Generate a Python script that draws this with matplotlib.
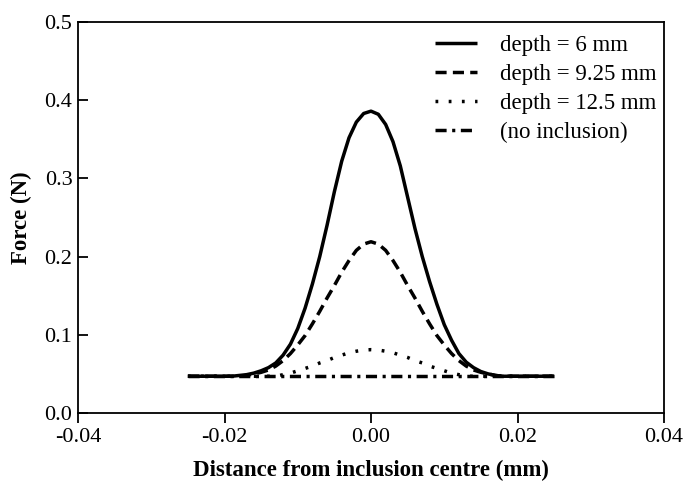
import matplotlib
matplotlib.use("Agg")
from matplotlib import pyplot as plt

# distance from inclusion centre, sampled every 0.001
distance = [-0.025, -0.024, -0.023, -0.022, -0.021, -0.020, -0.019, -0.018, -0.017,
            -0.016, -0.015, -0.014, -0.013, -0.012, -0.011, -0.010, -0.009, -0.008,
            -0.007, -0.006, -0.005, -0.004, -0.003, -0.002, -0.001, 0.000,
            0.001, 0.002, 0.003, 0.004, 0.005, 0.006, 0.007, 0.008, 0.009,
            0.010, 0.011, 0.012, 0.013, 0.014, 0.015, 0.016, 0.017, 0.018,
            0.019, 0.020, 0.021, 0.022, 0.023, 0.024, 0.025]

force_6mm = [0.047, 0.047, 0.047, 0.047, 0.047, 0.047, 0.047, 0.048, 0.049,
             0.051, 0.054, 0.058, 0.064, 0.074, 0.088, 0.108, 0.134, 0.165,
             0.200, 0.240, 0.283, 0.322, 0.352, 0.372, 0.383, 0.386,
             0.382, 0.369, 0.347, 0.316, 0.276, 0.236, 0.200, 0.168, 0.139,
             0.113, 0.093, 0.076, 0.065, 0.058, 0.053, 0.050, 0.048, 0.047,
             0.047, 0.047, 0.047, 0.047, 0.047, 0.047, 0.047]

force_925mm = [0.047, 0.047, 0.047, 0.047, 0.047, 0.047, 0.047, 0.047, 0.048,
               0.050, 0.052, 0.055, 0.060, 0.067, 0.076, 0.087, 0.099, 0.114,
               0.130, 0.147, 0.163, 0.180, 0.195, 0.208, 0.216, 0.219,
               0.216, 0.208, 0.195, 0.180, 0.163, 0.147, 0.130, 0.114, 0.099,
               0.087, 0.076, 0.067, 0.060, 0.055, 0.052, 0.050, 0.048, 0.047,
               0.047, 0.047, 0.047, 0.047, 0.047, 0.047, 0.047]

force_125mm = [0.047, 0.047, 0.047, 0.047, 0.047, 0.047, 0.047, 0.047, 0.047,
               0.047, 0.047, 0.047, 0.047, 0.049, 0.051, 0.054, 0.057, 0.060,
               0.064, 0.067, 0.071, 0.074, 0.077, 0.079, 0.0805, 0.081,
               0.0805, 0.079, 0.077, 0.074, 0.071, 0.067, 0.064, 0.060, 0.057,
               0.054, 0.051, 0.049, 0.047, 0.047, 0.047, 0.047, 0.047, 0.047,
               0.047, 0.047, 0.047, 0.047, 0.047, 0.047, 0.047]

no_incl_x = [-0.025, 0.025]
no_incl_y = [0.047, 0.047]

labels = ["depth = 6 mm", "depth = 9.25 mm", "depth = 12.5 mm", "(no inclusion)"]
x_ticks = [-0.04, -0.02, 0.00, 0.02, 0.04]
x_ticklabels = ["-0.04", "-0.02", "0.00", "0.02", "0.04"]
y_ticks = [0.0, 0.1, 0.2, 0.3, 0.4, 0.5]
y_ticklabels = ["0.0", "0.1", "0.2", "0.3", "0.4", "0.5"]

plt.rcParams["font.family"] = ["Liberation Serif", "DejaVu Serif"]
plt.rcParams["axes.unicode_minus"] = False

fig = plt.figure(figsize=(6.83, 4.90), dpi=100)
ax = fig.add_axes([78 / 683, 77 / 490, 586 / 683, 391 / 490])

lw = 2.5
ax.plot(distance, force_6mm, color="black", lw=lw, solid_capstyle="butt", label=labels[0])
ax.plot(distance, force_925mm, color="black", lw=lw, dashes=(3.2, 1.8), label=labels[1])
ax.plot(distance, force_125mm, color="black", lw=lw, dashes=(0.8, 3.0), label=labels[2])
ax.plot(no_incl_x, no_incl_y, color="black", lw=lw, dashes=(3.2, 1.6, 0.9, 1.6), label=labels[3])

ax.set_xlim(-0.04, 0.04)
ax.set_ylim(0.0, 0.5)
ax.set_xticks(x_ticks)
ax.set_xticklabels(x_ticklabels)
ax.set_yticks(y_ticks)
ax.set_yticklabels(y_ticklabels)

for s in ax.spines.values():
    s.set_linewidth(1.3)
ax.tick_params(axis="x", direction="out", length=7, width=1.3, labelsize=16, pad=4)
ax.tick_params(axis="y", direction="in", length=7, width=1.3, labelsize=16, pad=4)

ax.set_xlabel("Distance from inclusion centre (mm)", fontsize=16.5, fontweight="bold", labelpad=9)
ax.set_ylabel("Force (N)", fontsize=16.5, fontweight="bold", labelpad=9)

ax.legend(loc="upper left", bbox_to_anchor=(435 / 683, 1 - 35 / 490), bbox_transform=fig.transFigure,
          frameon=False, fontsize=16.5, handlelength=1.85, handletextpad=1.0,
          labelspacing=0.34, borderpad=0, borderaxespad=0)

fig.savefig("out.png", dpi=100)
